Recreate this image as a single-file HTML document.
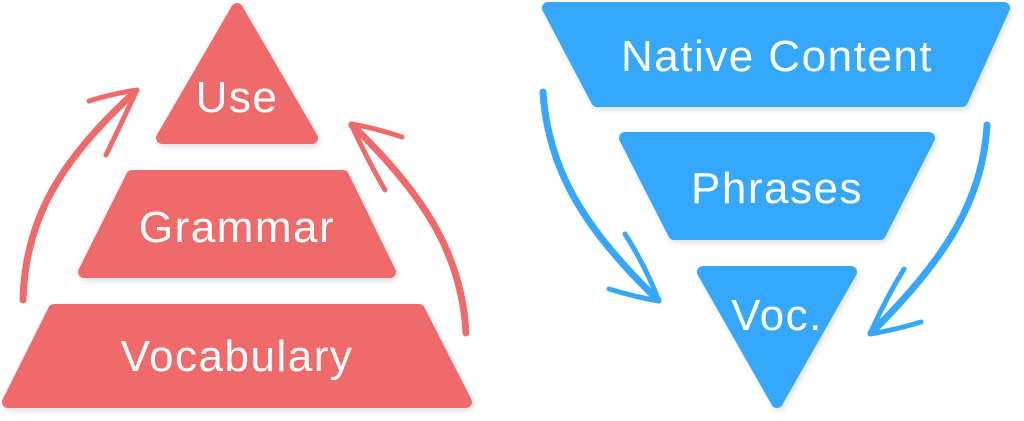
<!DOCTYPE html>
<html><head><style>
html,body{margin:0;padding:0;background:#fff;width:1024px;height:421px;overflow:hidden}
svg{display:block}
text{font-family:"Liberation Sans",sans-serif;font-size:44px;letter-spacing:1.5px;fill:#fff;text-anchor:middle}
</style></head><body>
<svg width="1024" height="421" viewBox="0 0 1024 421">
<defs><filter id="s" x="-10%" y="-10%" width="120%" height="130%"><feDropShadow dx="2" dy="3" stdDeviation="3" flood-color="#000" flood-opacity="0.12"/></filter></defs>
<g fill="#EF6A6A" stroke="#EF6A6A" stroke-width="12" stroke-linejoin="round" filter="url(#s)">
<polygon points="237,9 162,138 312,138"/>
<polygon points="132,176 343,176 390,272 84,272"/>
<polygon points="54,310 419,310 466,402 8,402"/>
</g>
<g fill="#36A7FD" stroke="#36A7FD" stroke-width="12" stroke-linejoin="round" filter="url(#s)">
<polygon points="548,8 1004,8 962,101 597,101"/>
<polygon points="625,138 929,138 880,234 674,234"/>
<polygon points="703,272 851,272 777,402"/>
</g>
<g fill="none" stroke-width="7" stroke-linecap="round" stroke-linejoin="round">
<path d="M23,300 C25,220 60,160 135,92" stroke="#EF6A6A"/>
<path d="M89,101 Q115,93 137,90 Q122,122 106,155" stroke="#EF6A6A" stroke-width="5"/>
<path d="M466,333 C462,260 430,200 352,125" stroke="#EF6A6A"/>
<path d="M402,137 Q375,128 351,124 Q366,157 385,190" stroke="#EF6A6A" stroke-width="5"/>
<path d="M543,92 C548,170 585,230 658,300" stroke="#36A7FD"/>
<path d="M609,289 Q635,297 659,301 Q645,265 625,234" stroke="#36A7FD" stroke-width="5"/>
<path d="M987,125 C983,200 945,260 871,333" stroke="#36A7FD"/>
<path d="M921,322 Q895,330 870,334 Q885,300 904,269" stroke="#36A7FD" stroke-width="5"/>
</g>
<text x="237" y="112">Use</text>
<text x="237" y="242">Grammar</text>
<text x="237" y="371">Vocabulary</text>
<text x="777" y="71">Native Content</text>
<text x="777" y="203">Phrases</text>
<text x="777" y="330">Voc.</text>
</svg>
</body></html>
